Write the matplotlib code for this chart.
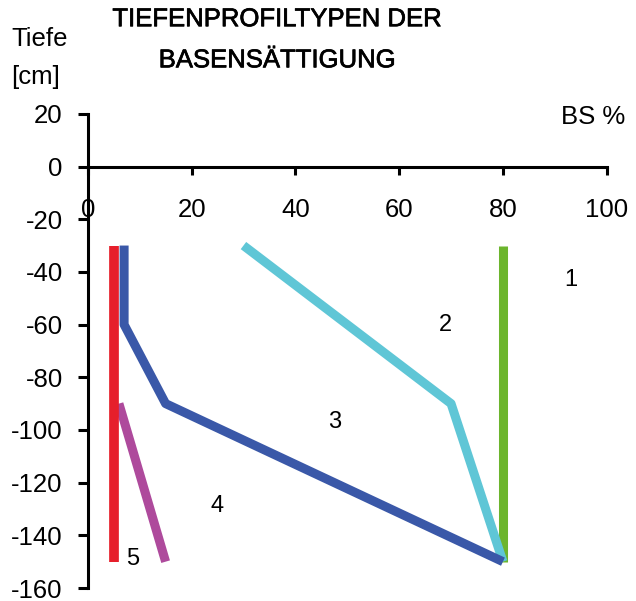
import matplotlib
matplotlib.use('Agg')
import matplotlib.pyplot as plt
import matplotlib.patheffects as pe

plt.rcParams['font.family'] = ['Liberation Sans', 'DejaVu Sans']
plt.rcParams['axes.unicode_minus'] = False

# Depth profiles of base saturation (BS %) vs depth [cm]
depth_1 = [-30, -150]
bs_1 = [80, 80]
depth_2 = [-30, -90, -150]
bs_2 = [30, 70, 80]
depth_3 = [-30, -60, -90, -150]
bs_3 = [7, 7, 15, 80]
depth_4 = [-90, -150]
bs_4 = [6, 15]
depth_5 = [-30, -150]
bs_5 = [5, 5]

profile_labels = ['1', '2', '3', '4', '5']
label_x = [93, 69, 47.5, 25, 8.7]
label_y = [-43, -60, -97, -129, -149]

x_ticks = [0, 20, 40, 60, 80, 100]
y_ticks = [-160, -140, -120, -100, -80, -60, -40, -20, 0, 20]

fig = plt.figure(figsize=(6.36, 6.01), dpi=100)
ax = fig.add_axes([0.138, 0.0216, 0.816, 0.789])

ax.plot(bs_1, depth_1, color='#6cb52d', lw=6.5, solid_capstyle='butt')
ax.plot(bs_2, depth_2, color='#5fc6d6', lw=6.5, solid_capstyle='butt')
ax.plot(bs_4, depth_4, color='#ae4a9c', lw=6.5, solid_capstyle='butt')
ax.plot(bs_3, depth_3, color='#3a58a8', lw=6.5, solid_capstyle='butt')
ax.plot(bs_5, depth_5, color='#e61f2b', lw=7, solid_capstyle='butt')

for lab, x, y in zip(profile_labels, label_x, label_y):
    ax.text(x, y, lab, fontsize=17, ha='center', va='center')

ax.set_xlim(0, 100)
ax.set_ylim(-160, 20)
ax.spines['top'].set_visible(False)
ax.spines['right'].set_visible(False)
ax.spines['bottom'].set_position(('data', 0))
for s in ['left', 'bottom']:
    ax.spines[s].set_linewidth(2.2)
ax.set_xticks(x_ticks)
ax.set_yticks(y_ticks)
ax.tick_params(axis='x', direction='out', length=6, width=2.2, pad=17, labelsize=18.5)
ax.tick_params(axis='y', direction='out', length=7, width=2.2, pad=11, labelsize=18.5)
ax.patch.set_visible(False)

fig.text(0.436, 0.988, 'TIEFENPROFILTYPEN DER\nBASENSÄTTIGUNG', fontsize=18.5,
         ha='center', va='top', linespacing=1.9,
         path_effects=[pe.withStroke(linewidth=0.5, foreground='black')])
fig.text(0.018, 0.955, 'Tiefe\n[cm]', fontsize=18.5, ha='left', va='top', linespacing=1.75)
fig.text(0.983, 0.805, 'BS %', fontsize=18.5, ha='right', va='center')

fig.savefig('out.png', dpi=100)
